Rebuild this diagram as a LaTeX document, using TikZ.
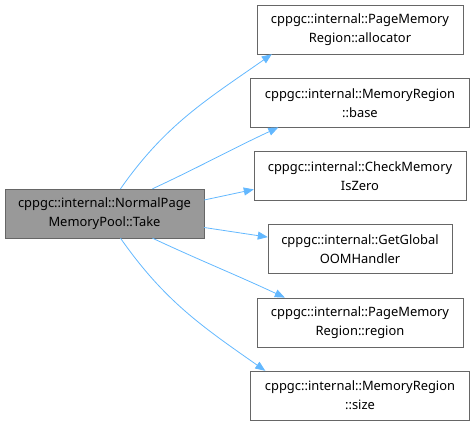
\documentclass[tikz,border=0pt]{standalone}
\usepackage{fontspec}
\setmainfont{Noto Sans}
\usepackage{xcolor}
\usetikzlibrary{arrows.meta}
\definecolor{edgeblue}{HTML}{63B8FF}
\definecolor{boxline}{HTML}{666666}
\definecolor{boxfill}{HTML}{999999}

\begin{document}
\begin{tikzpicture}[x=1pt,y=1pt,
 box/.style={draw=boxline,fill=white,align=center,minimum height=49pt,inner sep=0pt,font=\fontsize{12.9}{19}\selectfont},
 call/.style={-{Triangle[length=10pt,width=8pt]},draw=edgeblue,line width=0.8pt}]
\useasboundingbox(0,0)rectangle(474,-426);
\node[box,fill=boxfill,minimum width=199pt](take)at(104.5,-213.5){cppgc::internal::NormalPage\\MemoryPool::Take};
\node[box,minimum width=206pt](alloc)at(360,-29.5){cppgc::internal::PageMemory\\Region::allocator};
\node[box,minimum width=219pt](base)at(360,-102.7){cppgc::internal::MemoryRegion\\::base};
\node[box,minimum width=212pt](check)at(360,-175.9){cppgc::internal::CheckMemory\\IsZero};
\node[box,minimum width=184pt](oom)at(360,-249.1){cppgc::internal::GetGlobal\\OOMHandler};
\node[box,minimum width=206pt](region)at(360,-322.3){cppgc::internal::PageMemory\\Region::region};
\node[box,minimum width=219pt](size)at(360,-395.5){cppgc::internal::MemoryRegion\\::size};
% calls
\draw[call]([xshift=16pt]take.north)to[out=55,in=-145]([xshift=15pt]alloc.south west);
\draw[call]([xshift=48pt]take.north)to[out=25,in=-155]([xshift=28pt]base.south west);
\draw[call]([yshift=13.5pt]take.east)--([yshift=-13.5pt]check.west);
\draw[call]([yshift=-14pt]take.east)--([yshift=12pt]oom.west);
\draw[call]([xshift=48pt]take.south)to[out=-25,in=155]([xshift=28pt]region.north west);
\draw[call]([xshift=16pt]take.south)to[out=-55,in=145]([xshift=15pt]size.north west);
\end{tikzpicture}
\end{document}
